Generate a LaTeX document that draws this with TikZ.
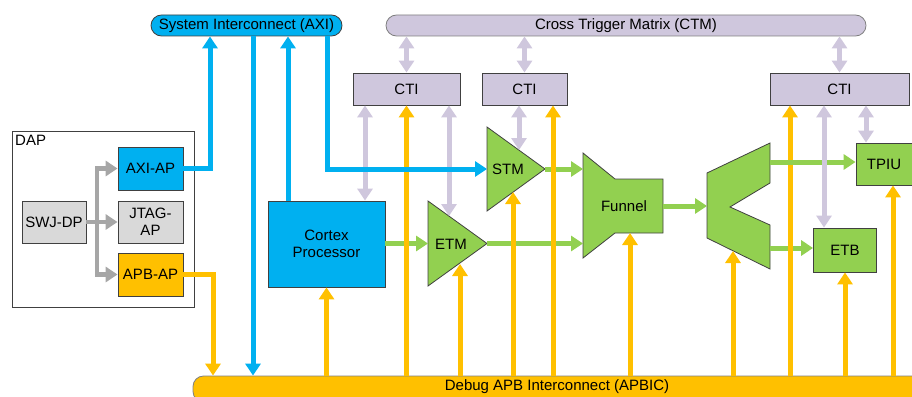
\documentclass[tikz,border=0pt]{standalone}
\usepackage{fontspec}
\setmainfont{Liberation Sans}
\usetikzlibrary{positioning,arrows.meta}
\definecolor{axiblue}{HTML}{00B0F0}
\definecolor{apborange}{HTML}{FFC000}
\definecolor{trcgreen}{HTML}{92D050}
\definecolor{ctlilac}{HTML}{CFC7DD}
\definecolor{dpgray}{HTML}{D9D9D9}
\definecolor{linkgray}{HTML}{A6A6A6}
\definecolor{edgegray}{HTML}{404040}
\tikzset{
  box/.style={draw=edgegray, line width=0.8pt, inner sep=0pt, align=center,
    font=\fontsize{15}{17.5}\selectfont},
  bus/.style={box, rounded corners=10.5pt, minimum height=21pt},
  lbl/.style={inner sep=0pt, font=\fontsize{15}{17.5}\selectfont},
  trcshape/.style={draw=edgegray, line width=0.8pt, fill=trcgreen},
  tip/.style={-{Triangle[width=15pt,length=12pt]}},
  axiline/.style={tip, axiblue, line width=5pt},
  apbline/.style={tip, apborange, line width=5pt},
  trcline/.style={tip, trcgreen, line width=5pt},
  dpline/.style={tip, linkgray, line width=4.5pt},
  ctiline/.style={{Triangle[width=15pt,length=12pt]}-{Triangle[width=15pt,length=12pt]},
    ctlilac, line width=5pt}
}

\begin{document}
\begin{tikzpicture}[x=1pt,y=-1pt]
\useasboundingbox (0,0) rectangle (912,396);

% buses
\node[bus, fill=axiblue] (axi) at (246.5,25.5) [minimum width=191pt] {System Interconnect (AXI)};
\node[bus, fill=ctlilac, draw=gray] (ctm) at (626,25.5) [minimum width=480pt] {Cross Trigger Matrix (CTM)};
\node[bus, fill=apborange, draw=gray] (apbic) at (577,389) [minimum width=768pt, minimum height=26pt] {};
\node[lbl] (apbictext) at (557,387) {Debug APB Interconnect (APBIC)};

% cross trigger interfaces
\node[box, fill=ctlilac, minimum width=107pt, minimum height=32pt] (cti1) at (406.5,89) {CTI};
\node[box, fill=ctlilac, minimum width=85pt, minimum height=32pt] (cti2) at (524.5,89) {CTI};
\node[box, fill=ctlilac, minimum width=139pt, minimum height=32pt] (cti3) at (839.5,89) {CTI};

% debug access port
\node[draw=edgegray, line width=0.8pt, minimum width=182pt, minimum height=176pt] (dap) at (103,219) {};
\node[lbl, anchor=north west] (daptext) at (15,135) {DAP};
\node[box, fill=axiblue, minimum width=65pt, minimum height=43pt] (axiap) at (150.5,168.5) {AXI-AP};
\node[box, fill=dpgray, minimum width=64pt, minimum height=42pt] (swjdp) at (54,222) {SWJ-DP};
\node[box, fill=dpgray, minimum width=65pt, minimum height=42pt] (jtagap) at (150.5,222) {JTAG-\\AP};
\node[box, fill=apborange, minimum width=65pt, minimum height=43pt] (apbap) at (150.5,274.5) {APB-AP};

% processor and trace
\node[box, fill=axiblue, minimum width=117pt, minimum height=86pt] (cortex) at (326.5,244) {Cortex\\Processor};

\coordinate (etm-in) at (428,243.5);
\coordinate (etm-out) at (487,243.5);
\coordinate (etm-top) at (449,216);
\coordinate (etm-bot) at (460,264);
\draw[trcshape] (428,201) -- (etm-out) -- (428,286) -- cycle;
\node[lbl] (etm) at (451,244) {ETM};

\coordinate (stm-in) at (487,169);
\coordinate (stm-out) at (545,169);
\coordinate (stm-top) at (519,150);
\coordinate (stm-bot) at (513,192);
\draw[trcshape] (487,127) -- (stm-out) -- (487,211) -- cycle;
\node[lbl] (stm) at (508,169) {STM};

\coordinate (fun-a) at (583,169);
\coordinate (fun-b) at (583,243.5);
\coordinate (fun-out) at (663,206);
\coordinate (fun-bot) at (630,233);
\draw[trcshape] (583,153) -- (615,179) -- (663,179) -- (663,233) -- (615,233) -- (583,258) -- cycle;
\node[lbl] (funnel) at (624,206) {Funnel};

\coordinate (rep-in) at (707,206);
\coordinate (rep-a) at (770,162);
\coordinate (rep-b) at (770,248);
\coordinate (rep-bot) at (733,251);
\draw[trcshape] (707,173) -- (770,143) -- (770,183) -- (730,207) -- (770,225) -- (770,269) -- (707,238) -- cycle;

\node[box, fill=trcgreen, minimum width=56pt, minimum height=42pt] (tpiu) at (884,164) {TPIU};
\node[box, fill=trcgreen, minimum width=63pt, minimum height=44pt] (etb) at (845,250) {ETB};

% columns where lines meet the buses
\coordinate (c210) at (210,0);
\coordinate (c213) at (213,0);
\coordinate (c253) at (253,0);
\coordinate (c288) at (288,0);
\coordinate (c327) at (327,0);
\coordinate (c365) at (365,0);
\coordinate (c553) at (553,0);
\coordinate (c790) at (790,0);
\coordinate (c824) at (824,0);
\coordinate (c866) at (866,0);
\coordinate (c893) at (893,0);

% trace data
\path[trcline] (cortex.east |- etm-in) edge (etm-in)
               (etm-out) edge (fun-b)
               (stm-out) edge (fun-a)
               (fun-out) edge (rep-in)
               (rep-b) edge (etb.west |- rep-b);

% APB
\draw[apbline] (apbap.east) -| (apbic.north -| c213);
\path[apbline] (apbic.north -| cortex.south) edge (cortex.south)
               (apbic.north -| cti1.south) edge (cti1.south)
               (apbic.north -| etm-bot) edge (etm-bot)
               (apbic.north -| stm-bot) edge (stm-bot)
               (apbic.north -| c553) edge (cti2.south -| c553)
               (apbic.north -| fun-bot) edge (fun-bot)
               (apbic.north -| rep-bot) edge (rep-bot)
               (apbic.north -| c790) edge (cti3.south -| c790)
               (apbic.north -| etb.south) edge (etb.south)
               (apbic.north -| c893) edge (tpiu.south -| c893);

\path[trcline] (rep-a) edge (tpiu.west |- rep-a);

% cross triggers
\path[ctiline] (ctm.south -| cti1.north) edge (cti1.north)
               (ctm.south -| cti2.north) edge (cti2.north)
               (ctm.south -| cti3.north) edge (cti3.north)
               (cti1.south -| c365) edge (cortex.north -| c365)
               (cti1.south -| etm-top) edge (etm-top)
               (cti2.south -| stm-top) edge (stm-top)
               (cti3.south -| c824) edge (etb.north -| c824)
               (cti3.south -| c866) edge (tpiu.north -| c866);

% AXI
\draw[axiline] (axiap.east) -| (axi.south -| c210);
\draw[axiline] (axi.south -| c253) -- (apbic.north -| c253);
\draw[axiline] (cortex.north -| c288) -- (axi.south -| c288);
\draw[axiline] (axi.south -| c327) |- (stm-in);

% DAP internal
\draw[dpline] (swjdp.east) -- (jtagap.west);
\draw[dpline] (97,222) |- (axiap.west);
\draw[dpline] (97,222) |- (apbap.west);
\end{tikzpicture}
\end{document}
